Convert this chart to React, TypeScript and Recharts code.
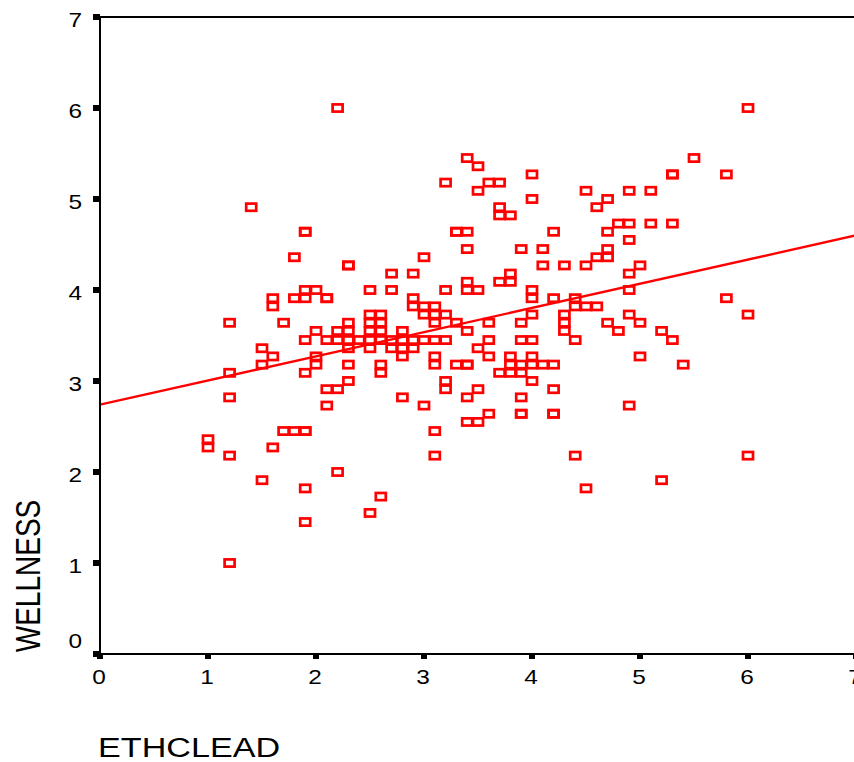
import { ScatterChart, Scatter, XAxis, YAxis, ReferenceLine, Label } from 'recharts';

// ETHCLEAD levels and the WELLNESS scores observed at each level
const ethcleadLevels = [
    1.0, 1.2, 1.4, 1.5, 1.6, 1.7, 1.8, 1.9, 2.0, 2.1, 2.2, 2.3, 2.4, 2.5, 2.6, 2.7, 2.8, 2.9,
    3.0, 3.1, 3.2, 3.3, 3.4, 3.5, 3.6, 3.7, 3.8, 3.9, 4.0, 4.1, 4.2, 4.3, 4.4, 4.5, 4.6, 4.7,
    4.8, 4.9, 5.0, 5.1, 5.2, 5.3, 5.4, 5.5, 5.8, 6.0,
];

const wellnessByLevel = [
    [2.36, 2.27],
    [3.64, 3.09, 2.82, 2.18, 1.0],
    [4.91],
    [3.36, 3.18, 1.91],
    [3.91, 3.82, 3.27, 2.27],
    [3.64, 2.45],
    [4.36, 3.91, 2.45],
    [4.64, 4.64, 4.0, 3.91, 3.45, 3.09, 2.45, 2.45, 1.82, 1.45],
    [4.0, 3.55, 3.27, 3.18],
    [3.91, 3.91, 3.45, 2.91, 2.73],
    [6.0, 3.55, 3.45, 2.91, 2.0],
    [4.27, 4.27, 3.64, 3.55, 3.45, 3.36, 3.18, 3.0],
    [3.45],
    [4.0, 3.73, 3.64, 3.55, 3.45, 3.36, 1.55],
    [3.73, 3.64, 3.55, 3.45, 3.18, 3.09, 1.73],
    [4.18, 4.0, 3.45, 3.36],
    [3.55, 3.45, 3.36, 3.27, 2.82],
    [4.18, 3.91, 3.82, 3.45, 3.36],
    [4.36, 3.82, 3.73, 3.45, 2.73],
    [3.82, 3.73, 3.64, 3.45, 3.27, 3.18, 2.45, 2.18],
    [5.18, 4.0, 3.73, 3.45, 3.0, 2.91],
    [4.64, 4.64, 3.64, 3.18],
    [5.45, 4.64, 4.45, 4.09, 4.0, 3.55, 3.18, 3.18, 2.82, 2.55],
    [5.36, 5.09, 4.0, 3.36, 2.91, 2.55],
    [5.18, 3.64, 3.45, 3.27, 2.64],
    [5.18, 4.91, 4.82, 4.09, 3.09],
    [4.82, 4.18, 4.09, 3.27, 3.18, 3.09],
    [4.45, 3.64, 3.45, 3.18, 3.09, 2.82, 2.64, 2.64],
    [5.27, 5.0, 4.0, 3.91, 3.73, 3.45, 3.27, 3.18, 3.0],
    [4.45, 4.27, 3.18],
    [4.64, 3.91, 3.18, 2.91, 2.64, 2.64],
    [4.27, 3.73, 3.64, 3.55],
    [3.91, 3.82, 3.45, 2.18],
    [5.09, 4.27, 3.82, 1.82],
    [4.91, 4.36, 3.82],
    [5.0, 4.64, 4.45, 4.36, 3.64],
    [4.73, 3.55],
    [5.09, 4.73, 4.55, 4.18, 4.0, 3.73, 2.73],
    [4.27, 3.64, 3.27],
    [5.09, 4.73],
    [3.55, 1.91],
    [5.27, 5.27, 4.73, 3.45],
    [3.18],
    [5.45],
    [5.27, 3.91],
    [6.0, 3.73, 2.18],
];

const axisTicks = [0, 1, 2, 3, 4, 5, 6, 7];

// fitted regression line end points
const fitX = [0, 7];
const fitY = [2.74, 4.6];

const points = ethcleadLevels.flatMap((x, i) => wellnessByLevel[i].map((y) => ({ x, y })));

const FONT = '"Liberation Sans", Arial, Helvetica, sans-serif';
const STRETCH = 1.22;
const RED = '#ff0000';

function SquareMarker(props: any) {
    const { cx, cy } = props;
    if (cx == null || cy == null) return null;
    return (
        <rect x={cx - 5} y={cy - 3.6} width={10} height={7.2} fill="none" stroke={RED} strokeWidth={2.7} />
    );
}

function XTick({ x, payload }: any) {
    return (
        <text
            transform={`translate(${x - 1},684) scale(${STRETCH},1)`}
            textAnchor="middle"
            fontSize={20}
            fontFamily={FONT}
            fill="#000"
        >
            {payload.value}
        </text>
    );
}

function YTick({ y, payload }: any) {
    const base = payload.value === 0 ? y - 6 : y + 10;
    return (
        <text
            transform={`translate(82,${base}) scale(${STRETCH},1)`}
            textAnchor="end"
            fontSize={20}
            fontFamily={FONT}
            fill="#000"
        >
            {payload.value}
        </text>
    );
}

const XTitle = () => (
    <text
        transform={`translate(98,757) scale(${STRETCH},1)`}
        textAnchor="start"
        fontSize={28}
        fontFamily={FONT}
        fill="#000"
    >
        ETHCLEAD
    </text>
);

const YTitle = () => (
    <text
        transform={`translate(28,576) scale(${STRETCH},1) rotate(-90)`}
        textAnchor="middle"
        dy="0.36em"
        fontSize={28}
        fontFamily={FONT}
        fill="#000"
    >
        WELLNESS
    </text>
);

export default function App() {
    return (
        <div
            style={{
                position: 'fixed',
                left: 0,
                top: 0,
                width: 854,
                height: 762,
                overflow: 'hidden',
                background: '#fff',
            }}
        >
            <ScatterChart width={880} height={762} margin={{ top: 17, right: 24, left: 0, bottom: 0 }}>
                <XAxis
                    type="number"
                    dataKey="x"
                    domain={[0, 7]}
                    ticks={axisTicks}
                    height={108}
                    axisLine={{ stroke: '#000', strokeWidth: 2 }}
                    tickLine={{ stroke: '#000', strokeWidth: 6 }}
                    tickSize={5}
                    tick={<XTick />}
                    interval={0}
                >
                    <Label content={XTitle} />
                </XAxis>
                <YAxis
                    type="number"
                    dataKey="y"
                    domain={[0, 7]}
                    ticks={axisTicks}
                    width={100}
                    axisLine={{ stroke: '#000', strokeWidth: 2 }}
                    tickLine={{ stroke: '#000', strokeWidth: 6 }}
                    tickSize={7}
                    tick={<YTick />}
                    interval={0}
                >
                    <Label content={YTitle} />
                </YAxis>
                <ReferenceLine y={7} stroke="#000" strokeWidth={2} />
                <ReferenceLine x={7} stroke="#000" strokeWidth={2} />
                <ReferenceLine
                    segment={[
                        { x: fitX[0], y: fitY[0] },
                        { x: fitX[1], y: fitY[1] },
                    ]}
                    stroke={RED}
                    strokeWidth={2.4}
                    ifOverflow="visible"
                />
                <Scatter data={points} shape={SquareMarker} isAnimationActive={false} />
            </ScatterChart>
        </div>
    );
}
